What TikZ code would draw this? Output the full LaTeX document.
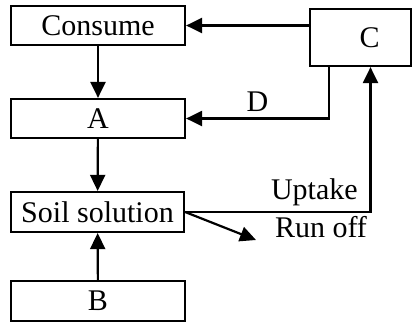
\documentclass[tikz,border=0pt]{standalone}
\usepackage{fontspec}
\setmainfont{Liberation Serif}
\usetikzlibrary{arrows.meta}
\tikzset{
  box/.style={draw, line width=2.2pt, minimum width=174pt, minimum height=39pt, inner sep=0pt},
  flow/.style={line width=2.2pt, -{Triangle[length=16pt,width=15pt]}},
  lbl/.style={inner sep=0pt}
}
\begin{document}
\begin{tikzpicture}[x=1pt,y=-1pt,font=\fontsize{30}{34}\selectfont]
\useasboundingbox (0,0) rectangle (412,322);
% Boxes
\node[box] (cons) at (98,25.5) {Consume};
\node[box, minimum width=101pt, minimum height=57pt] (c) at (360.5,37.5) {\hspace*{18pt}C};
\node[box] (a) at (98,118.5) {A};
\node[box, minimum width=173pt, minimum height=40pt] (soil) at (97.5,212) {Soil solution};
\node[box, minimum height=40pt] (b) at (98,301) {B};
% Vertical flow
\draw[flow] (cons) -- (a);
\draw[flow] (a) -- (soil);
\draw[flow] (b) -- (soil);
% Return paths
\draw[flow] (c.west |- cons.east) -- (cons.east);
\draw[flow] ([xshift=20pt]c.south west) |- (a.east)
    node[lbl, pos=0.75, above=6pt] {D};
\draw[flow] (soil.east) -| ([xshift=10pt]c.south)
    node[lbl, pos=0.3, above=5pt, xshift=18pt] {Uptake};
% Run off
\coordinate (ro) at (256,240);
\draw[flow] (soil.east) -- (ro);
\node[lbl] (runoff) at (321,227) {Run off};
\end{tikzpicture}
\end{document}
